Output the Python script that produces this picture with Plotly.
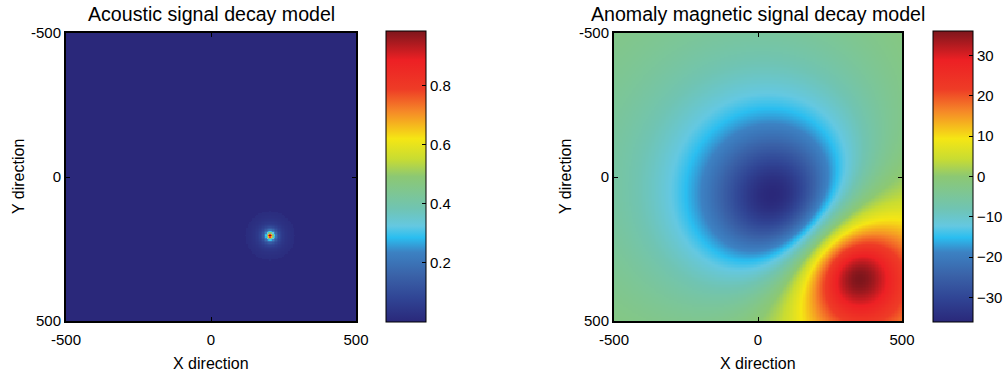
import numpy as np
import plotly.graph_objects as go

# ---------------- data / model parameters ----------------
grid_x = np.arange(-500, 501, 5)
grid_y = np.arange(-500, 501, 5)

# acoustic source
acoustic_source = [205, 205]      # x, y
acoustic_peak = [0.985]
acoustic_scale = [10.0]           # decay distance
acoustic_range = [85.0]           # audible radius

# magnetic anomaly: negative pole and positive pole
neg_pole = [78, 90]
pos_pole = [336, 338]
neg_depth = [270.0]
pos_depth = [175.0]
neg_power = [0.85]
pos_power = [0.65]
magnetic_extremes = [-35.0, 35.2]

tick_vals = [-500, 0, 500]
tick_text = ["-500", "0", "500"]
cb1_ticks = [0.2, 0.4, 0.6, 0.8]
cb2_ticks = [-30, -20, -10, 0, 10, 20, 30]

# ---------------- fields ----------------
X, Y = np.meshgrid(grid_x, grid_y)

d = np.hypot(X - acoustic_source[0], Y - acoustic_source[1])
acoustic = acoustic_peak[0] / (1.0 + (d / acoustic_scale[0]) ** 2)
acoustic = np.where(d <= acoustic_range[0], acoustic, 0.0)


def pole(x, y, P, h, p):
    return (1 + ((x - P[0]) ** 2 + (y - P[1]) ** 2) / h ** 2) ** (-p)


g_np = pole(*pos_pole, neg_pole, neg_depth[0], neg_power[0])
g_pn = pole(*neg_pole, pos_pole, pos_depth[0], pos_power[0])
A1, A2 = np.linalg.solve(np.array([[-1.0, g_pn], [-g_np, 1.0]]), magnetic_extremes)
mag = (-A1 * pole(X, Y, neg_pole, neg_depth[0], neg_power[0])
       + A2 * pole(X, Y, pos_pole, pos_depth[0], pos_power[0]))

# ---------------- colours ----------------
cscale = [
    [0.00, "rgb(42,40,122)"],
    [0.08, "rgb(48,68,148)"],
    [0.16, "rgb(58,98,168)"],
    [0.24, "rgb(60,130,195)"],
    [0.29, "rgb(42,190,240)"],
    [0.33, "rgb(100,200,225)"],
    [0.39, "rgb(112,196,178)"],
    [0.50, "rgb(140,200,115)"],
    [0.56, "rgb(200,220,50)"],
    [0.63, "rgb(245,230,20)"],
    [0.725, "rgb(245,135,40)"],
    [0.80, "rgb(238,60,38)"],
    [0.90, "rgb(237,32,36)"],
    [1.00, "rgb(125,22,28)"],
]

W, H = 1006, 374
FONT = "Liberation Sans, Arial, sans-serif"


def px(x):
    return x / W


def py(y):
    return 1 - y / H


fig = go.Figure()

cb_common = dict(
    thickness=40, thicknessmode="pixels", len=291 / H, lenmode="fraction",
    yanchor="top", y=py(31), xanchor="left", xpad=0, ypad=0,
    outlinecolor="black", outlinewidth=1, ticks="inside", ticklen=4,
    tickcolor="black", tickfont=dict(family=FONT, size=15, color="black"),
)

fig.add_trace(go.Heatmap(
    x=grid_x, y=grid_y, z=acoustic, colorscale=cscale,
    zmin=0, zmax=float(acoustic.max()), xaxis="x", yaxis="y",
    colorbar=dict(x=px(386), tickvals=cb1_ticks, **cb_common),
))
fig.add_trace(go.Heatmap(
    x=grid_x, y=grid_y, z=mag, colorscale=cscale,
    zmin=float(mag.min()), zmax=float(mag.max()), xaxis="x2", yaxis="y2",
    colorbar=dict(x=px(933), tickvals=cb2_ticks, **cb_common),
))

ax_common = dict(
    showgrid=False, zeroline=False, showline=True, linecolor="black",
    linewidth=2, mirror="ticks", ticks="inside", ticklen=4, tickcolor="black",
    tickvals=tick_vals, ticktext=tick_text,
    tickfont=dict(family=FONT, size=15, color="black"),
)

xa = dict(ax_common, range=[-500, 500], ticklabelstandoff=4)
ya = dict(ax_common, range=[500, -500])

fig.update_layout(
    width=W, height=H,
    margin=dict(l=0, r=0, t=0, b=0, autoexpand=False),
    paper_bgcolor="white", plot_bgcolor="white", showlegend=False,
    xaxis=dict(xa, domain=[px(66), px(356)], anchor="y"),
    yaxis=dict(ya, domain=[py(321), py(33)], anchor="x"),
    xaxis2=dict(xa, domain=[px(614), px(902)], anchor="y2"),
    yaxis2=dict(ya, domain=[py(321), py(33)], anchor="x2"),
)

annots = [
    ("Acoustic signal decay model", px(211), py(14), 19.6, 0),
    ("Anomaly magnetic signal decay model", px(758), py(14), 19.6, 0),
    ("X direction", px(211), py(363), 16, 0),
    ("X direction", px(758), py(363), 16, 0),
    ("Y direction", px(18), py(177), 16, -90),
    ("Y direction", px(565), py(177), 16, -90),
]
for text, x, y, size, ang in annots:
    fig.add_annotation(text=text, x=x, y=y, xref="paper", yref="paper",
                       showarrow=False, textangle=ang, xanchor="center", yanchor="middle",
                       font=dict(family=FONT, size=size, color="black"))

fig.write_html("out.html", config={"displayModeBar": False},
               post_script="document.body.style.margin='0px';")
